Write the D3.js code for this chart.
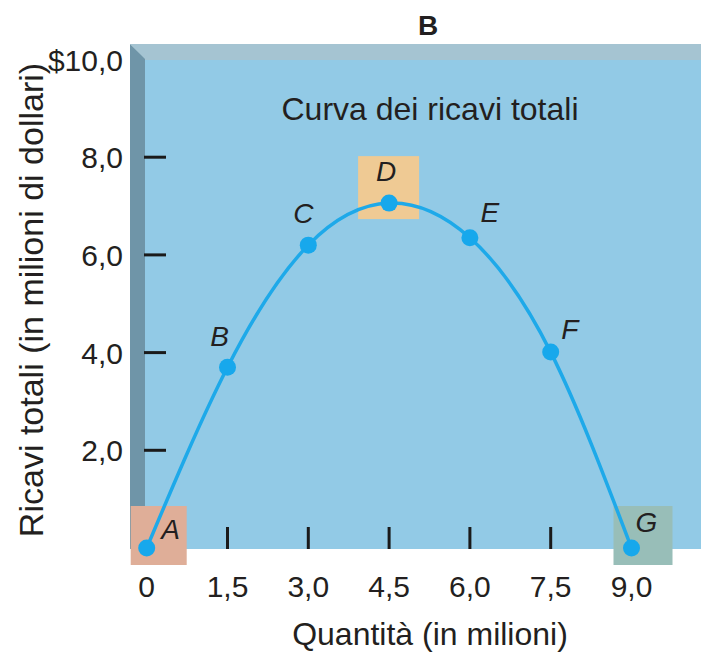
<!DOCTYPE html>
<html>
<head>
<meta charset="utf-8">
<script src="https://cdn.jsdelivr.net/npm/d3@7"></script>
<style>
  html, body { margin: 0; padding: 0; background: #ffffff; }
  svg { display: block; }
  text { font-family: "Liberation Sans", Arial, Helvetica, sans-serif; fill: #231f20; }
</style>
</head>
<body>
<svg id="chart" width="701" height="653"></svg>
<script>
// Total revenue at each quantity (millions)
const pointNames = ["A", "B", "C", "D", "E", "F", "G"];
const quantities = [0, 1.5, 3.0, 4.5, 6.0, 7.5, 9.0];
const revenues   = [0, 3.70, 6.20, 7.06, 6.35, 4.01, 0];
const xTickValues = [0, 1.5, 3.0, 4.5, 6.0, 7.5, 9.0];
const yTickValues = [2, 4, 6, 8, 10];
const highlighted = { A: "#dfae98", D: "#efca94", G: "#98beb8" };

const svg = d3.select("#chart");
const it = d3.formatLocale({ decimal: ",", thousands: ".", grouping: [3], currency: ["$", ""] });
const fmt1 = it.format(".1f");

const x = d3.scaleLinear().domain([0, 9]).range([146.7, 631.5]);
const y = d3.scaleLinear().domain([0, 10]).range([548, 59.5]);

// Panel with bevelled top and left edges
const panelLeft = 130, panelTop = 44, depth = 15, panelRight = 701, panelBottom = 549;
svg.append("rect").attr("x", panelLeft + depth).attr("y", panelTop + depth)
  .attr("width", panelRight - panelLeft - depth).attr("height", panelBottom - panelTop - depth)
  .attr("fill", "#92cae6");
svg.append("path")
  .attr("d", `M${panelLeft},${panelTop}L${panelRight},${panelTop}L${panelRight},${panelTop + depth + 1}L${panelLeft + depth},${panelTop + depth + 1}Z`)
  .attr("fill", "#a5c4d2");
svg.append("path")
  .attr("d", `M${panelLeft},${panelTop}L${panelLeft + depth},${panelTop + depth}L${panelLeft + depth},${panelBottom}L${panelLeft},${panelBottom}Z`)
  .attr("fill", "#6f95a8");

// Highlight boxes behind points A, D, G
const boxes = {
  A: { dx0: -16, dx1: 40, dy0: -42, dy1: 17 },
  D: { dx0: -31, dx1: 30, dy0: -47, dy1: 16 },
  G: { dx0: -18, dx1: 41, dy0: -42, dy1: 17 }
};
pointNames.forEach((n, i) => {
  if (!highlighted[n]) return;
  const b = boxes[n];
  const cx = x(quantities[i]), cy = y(revenues[i]);
  svg.append("rect")
    .attr("x", cx + b.dx0).attr("y", cy + b.dy0)
    .attr("width", b.dx1 - b.dx0).attr("height", b.dy1 - b.dy0)
    .attr("fill", highlighted[n]);
});

// Tick marks inside the panel
svg.append("g").selectAll("line").data(yTickValues.filter(v => v < 10)).join("line")
  .attr("x1", 144).attr("x2", 166)
  .attr("y1", d => y(d)).attr("y2", d => y(d))
  .attr("stroke", "#1a1a1a").attr("stroke-width", 3);
svg.append("g").selectAll("line").data(xTickValues.filter(v => v > 0 && v < 9)).join("line")
  .attr("x1", d => x(d)).attr("x2", d => x(d))
  .attr("y1", 527).attr("y2", 549)
  .attr("stroke", "#1a1a1a").attr("stroke-width", 3);

// Tick labels
svg.append("g").selectAll("text").data(yTickValues).join("text")
  .attr("x", 123).attr("y", d => y(d) + 11)
  .attr("text-anchor", "end").attr("font-size", 30)
  .text(d => d === 10 ? "$" + fmt1(d) : fmt1(d));
svg.append("g").selectAll("text").data(xTickValues).join("text")
  .attr("x", d => x(d)).attr("y", 597)
  .attr("text-anchor", "middle").attr("font-size", 30)
  .text(d => d === 0 ? "0" : fmt1(d));

// Titles
svg.append("text").attr("x", 428).attr("y", 35)
  .attr("text-anchor", "middle").attr("font-size", 28).attr("font-weight", "bold")
  .text("B");
svg.append("text").attr("x", 430).attr("y", 120)
  .attr("text-anchor", "middle").attr("font-size", 32)
  .text("Curva dei ricavi totali");
svg.append("text").attr("x", 430).attr("y", 645)
  .attr("text-anchor", "middle").attr("font-size", 32)
  .text("Quantità (in milioni)");
svg.append("text")
  .attr("transform", "translate(43,300) rotate(-90)")
  .attr("text-anchor", "middle").attr("font-size", 34)
  .text("Ricavi totali (in milioni di dollari)");

// Revenue curve
const pts = quantities.map((q, i) => [q, revenues[i]]);
svg.append("path")
  .datum(pts)
  .attr("fill", "none").attr("stroke", "#1ea9e9").attr("stroke-width", 3.5)
  .attr("d", d3.line().x(d => x(d[0])).y(d => y(d[1])).curve(d3.curveNatural));

svg.append("g").selectAll("circle").data(pts).join("circle")
  .attr("cx", d => x(d[0])).attr("cy", d => y(d[1])).attr("r", 8.5)
  .attr("fill", "#17a8ec");

// Point letters
const labelOffsets = {
  A: [24, -9], B: [-8, -21], C: [-5, -22], D: [-3, -22],
  E: [20, -16], F: [19, -13], G: [15, -16]
};
svg.append("g").selectAll("text").data(pointNames).join("text")
  .attr("x", (n, i) => x(quantities[i]) + labelOffsets[n][0])
  .attr("y", (n, i) => y(revenues[i]) + labelOffsets[n][1])
  .attr("text-anchor", "middle").attr("font-size", 28).attr("font-style", "italic")
  .text(n => n);
</script>
</body>
</html>
